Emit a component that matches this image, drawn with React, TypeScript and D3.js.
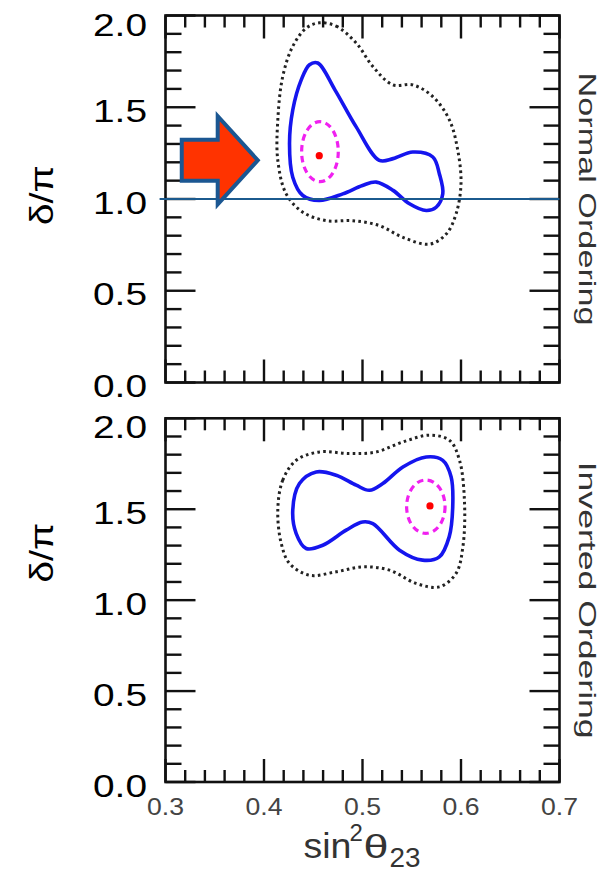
import React from "react";
import * as d3 from "d3";

// ---------- data ----------
const X_DOMAIN: [number, number] = [0.3, 0.7];
const Y_DOMAIN: [number, number] = [0, 2];
const X_TICK_LABELS = ["0.3", "0.4", "0.5", "0.6", "0.7"];
const Y_TICK_LABELS = ["0.0", "0.5", "1.0", "1.5", "2.0"];
const PANEL_NAMES = ["Normal Ordering", "Inverted Ordering"];

// Normal ordering: 90% C.L. (solid blue) contour [sin2θ23, δ/π]
const noBlue: [number, number][] = [
  [0.4546, 1.741], [0.472, 1.595], [0.4936, 1.393], [0.517, 1.211], [0.531, 1.22],
  [0.551, 1.256], [0.5714, 1.229], [0.578, 1.138], [0.5815, 1.028], [0.5748, 0.955],
  [0.5647, 0.937], [0.5477, 0.974], [0.531, 1.047], [0.514, 1.092], [0.5, 1.074],
  [0.48, 1.028], [0.456, 0.992], [0.4394, 1.019], [0.4292, 1.119], [0.4259, 1.302],
  [0.4292, 1.485], [0.4378, 1.649], [0.4462, 1.732],
];
// Normal ordering: 3σ (dotted black) contour
const noDotted: [number, number][] = [
  [0.4563, 1.96], [0.4733, 1.942], [0.4936, 1.85], [0.5105, 1.722], [0.5308, 1.622],
  [0.551, 1.622], [0.5714, 1.558], [0.5883, 1.43], [0.5967, 1.266], [0.6, 1.083],
  [0.595, 0.919], [0.585, 0.809], [0.568, 0.754], [0.541, 0.791], [0.517, 0.855],
  [0.49, 0.882], [0.463, 0.882], [0.4394, 0.928], [0.4225, 1.028], [0.414, 1.211],
  [0.414, 1.43], [0.419, 1.667], [0.4292, 1.832], [0.443, 1.932],
];
// Inverted ordering: solid blue contour
const ioBlue: [number, number][] = [
  [0.4292, 1.495], [0.436, 1.641], [0.453, 1.705], [0.4733, 1.687], [0.4936, 1.632],
  [0.5071, 1.604], [0.5206, 1.641], [0.541, 1.732], [0.5647, 1.787], [0.5815, 1.769],
  [0.59, 1.677], [0.5916, 1.513], [0.588, 1.348], [0.578, 1.238], [0.561, 1.22],
  [0.5376, 1.275], [0.5105, 1.421], [0.5, 1.43], [0.4834, 1.385], [0.4597, 1.302],
  [0.4428, 1.284], [0.4327, 1.366],
];
// Inverted ordering: dotted black contour
const ioDotted: [number, number][] = [
  [0.414, 1.495], [0.419, 1.659], [0.4327, 1.769], [0.4563, 1.815], [0.4868, 1.806],
  [0.5139, 1.815], [0.541, 1.87], [0.568, 1.907], [0.5883, 1.879], [0.5985, 1.769],
  [0.6036, 1.531], [0.6019, 1.293], [0.595, 1.147], [0.578, 1.073], [0.5545, 1.092],
  [0.5274, 1.165], [0.5, 1.183], [0.4733, 1.156], [0.446, 1.137], [0.4259, 1.202],
  [0.4175, 1.312],
];
// best fit points and 1σ (magenta dashed) ellipses: [x, d, rx, rd]
const bestFit: [number, number][] = [[0.4561, 1.236], [0.5685, 1.518]];
const oneSigma: [number, number, number, number][] = [
  [0.4568, 1.258, 0.0186, 0.1635],
  [0.5643, 1.514, 0.0195, 0.1467],
];
// annotation arrow (top panel) and reference line
const ARROW = { tail: 0.3165, neck: 0.353, tip: 0.3937, d: 1.211, shaftHalf: 0.112, headHalf: 0.24 };
const REF_LINE = { d: 1.0, x0: 0.294, x1: 0.7 };

// ---------- layout ----------
const W = 605, H = 873;
const LEFT = 165.5, RIGHT = 559.5;
const PANELS = [
  { top: 15.5, bottom: 382.5, labelD: 1.02 },
  { top: 418.3, bottom: 782, labelD: 1.26 },
];
const FONT = "'Liberation Sans', Arial, sans-serif";

const x = d3.scaleLinear().domain(X_DOMAIN).range([LEFT, RIGHT]);

function Panel({ idx }: { idx: number }) {
  const p = PANELS[idx];
  const y = d3.scaleLinear().domain(Y_DOMAIN).range([p.bottom, p.top]);
  const line = d3
    .line<[number, number]>()
    .x((d) => x(d[0]))
    .y((d) => y(d[1]))
    .curve(d3.curveCatmullRomClosed.alpha(0.5));
  const blue = idx === 0 ? noBlue : ioBlue;
  const dotted = idx === 0 ? noDotted : ioDotted;
  const bf = bestFit[idx];
  const sig = oneSigma[idx];
  const xt = x.ticks(20);
  const yt = y.ticks(20);
  const isMajor = (v: number, step: number) => Math.abs(v / step - Math.round(v / step)) < 1e-6;
  const tickStroke = "#111";

  return (
    <g>
      {/* contours */}
      <path d={line(dotted) || ""} fill="none" stroke="#222" strokeWidth={3} strokeDasharray="2.6 3.3" />
      <path d={line(blue) || ""} fill="none" stroke="#1515ee" strokeWidth={3.6} />
      <ellipse
        cx={x(sig[0])}
        cy={y(sig[1])}
        rx={x(sig[0] + sig[2]) - x(sig[0])}
        ry={y(sig[1]) - y(sig[1] + sig[3])}
        fill="none"
        stroke="#f020f0"
        strokeWidth={3.2}
        strokeDasharray="6.5 4.5"
      />
      <circle cx={x(bf[0])} cy={y(bf[1])} r={3.6} fill="#ff0000" />

      {/* frame */}
      <rect x={LEFT} y={p.top} width={RIGHT - LEFT} height={p.bottom - p.top} fill="none" stroke="#111" strokeWidth={2.6} />
      {/* x ticks (bottom and top, inward) */}
      {xt.map((v, i) => {
        const len = isMajor(v, 0.1) ? 23 : 12;
        return (
          <g key={"xt" + i}>
            <line x1={x(v)} x2={x(v)} y1={p.bottom} y2={p.bottom - len} stroke={tickStroke} strokeWidth={2.4} />
            <line x1={x(v)} x2={x(v)} y1={p.top} y2={p.top + len} stroke={tickStroke} strokeWidth={2.4} />
          </g>
        );
      })}
      {/* y ticks (left and right, inward) */}
      {yt.map((v, i) => {
        const len = isMajor(v, 0.5) ? 30 : 16;
        return (
          <g key={"yt" + i}>
            <line x1={LEFT} x2={LEFT + len} y1={y(v)} y2={y(v)} stroke={tickStroke} strokeWidth={2.4} />
            <line x1={RIGHT} x2={RIGHT - len} y1={y(v)} y2={y(v)} stroke={tickStroke} strokeWidth={2.4} />
          </g>
        );
      })}

      {/* y tick labels */}
      {Y_TICK_LABELS.map((s) => {
        const v = +s;
        const cy = Math.max(y(v) + 3.5, p.top + 9);
        return (
          <text
            key={"yl" + s}
            x={147}
            y={cy}
            textAnchor="end"
            dominantBaseline="central"
            fontFamily={FONT}
            fontSize={32}
            textLength={54}
            lengthAdjust="spacingAndGlyphs"
            fill="#000"
          >
            {s}
          </text>
        );
      })}

      {/* y axis title */}
      <text
        transform={`translate(53,${y(p.labelD)}) rotate(-90)`}
        textAnchor="middle"
        fontFamily={FONT}
        fontSize={34}
        textLength={60}
        lengthAdjust="spacingAndGlyphs"
        fill="#000"
      >
        δ/π
      </text>

      {/* right side label */}
      <text
        transform={`translate(579,${(p.top + p.bottom) / 2}) rotate(90)`}
        textAnchor="middle"
        fontFamily={FONT}
        fontSize={24}
        textLength={idx === 0 ? 253 : 277}
        lengthAdjust="spacingAndGlyphs"
        fill="#333"
      >
        {PANEL_NAMES[idx]}
      </text>

      {idx === 0 && (
        <g>
          <line
            x1={x(REF_LINE.x0)}
            x2={x(REF_LINE.x1)}
            y1={y(REF_LINE.d)}
            y2={y(REF_LINE.d)}
            stroke="#1b5a8e"
            strokeWidth={1.8}
          />
          <polygon
            points={[
              [ARROW.tail, ARROW.d + ARROW.shaftHalf],
              [ARROW.neck, ARROW.d + ARROW.shaftHalf],
              [ARROW.neck, ARROW.d + ARROW.headHalf],
              [ARROW.tip, ARROW.d],
              [ARROW.neck, ARROW.d - ARROW.headHalf],
              [ARROW.neck, ARROW.d - ARROW.shaftHalf],
              [ARROW.tail, ARROW.d - ARROW.shaftHalf],
            ]
              .map((q) => `${x(q[0])},${y(q[1])}`)
              .join(" ")}
            fill="#ff3300"
            stroke="#1b5792"
            strokeWidth={4}
            strokeLinejoin="miter"
          />
        </g>
      )}
    </g>
  );
}

export default function App() {
  const bottom = PANELS[1].bottom;
  const cx = x(0.5);
  return (
    <svg
      width={W}
      height={H}
      viewBox={`0 0 ${W} ${H}`}
      style={{ position: "absolute", left: 0, top: 0, background: "#fff" }}
    >
      <rect x={0} y={0} width={W} height={H} fill="#fff" />
      <Panel idx={0} />
      <Panel idx={1} />
      {/* x tick labels */}
      {X_TICK_LABELS.map((s) => (
        <text
          key={"xl" + s}
          x={x(+s)}
          y={bottom + 33}
          textAnchor="middle"
          fontFamily={FONT}
          fontSize={24}
          textLength={37}
          lengthAdjust="spacingAndGlyphs"
          fill="#444"
        >
          {s}
        </text>
      ))}
      {/* x axis title sin²θ23 */}
      <g fontFamily={FONT} fill="#333">
        <text x={cx - 59} y={bottom + 76} fontSize={35} textLength={48} lengthAdjust="spacingAndGlyphs">sin</text>
        <text x={cx - 13} y={bottom + 59} fontSize={24}>2</text>
        <text x={cx + 1} y={bottom + 76} fontSize={34} textLength={25} lengthAdjust="spacingAndGlyphs">θ</text>
        <text x={cx + 27} y={bottom + 85} fontSize={27} textLength={31} lengthAdjust="spacingAndGlyphs">23</text>
      </g>
    </svg>
  );
}
